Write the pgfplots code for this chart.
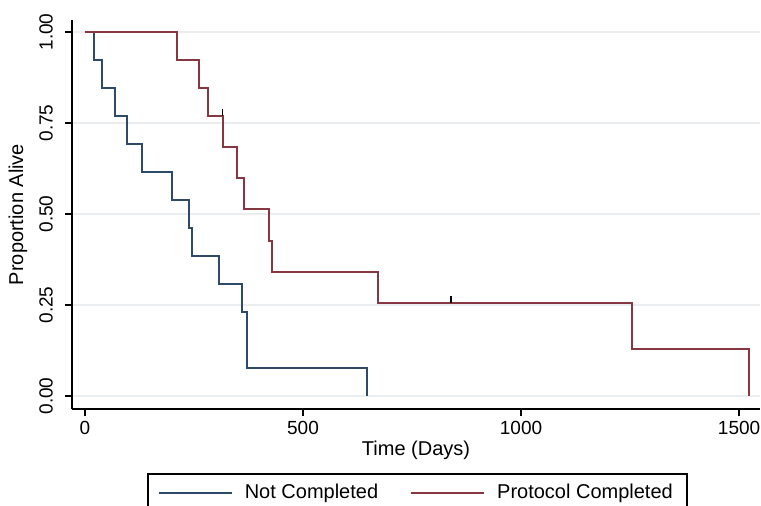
\documentclass[border=0pt]{standalone}
\usepackage{fontspec}
\setmainfont{Liberation Sans}
\usepackage{pgfplots}
\pgfplotsset{compat=1.18}

\definecolor{kmblue}{RGB}{45,75,105}
\definecolor{kmred}{RGB}{135,55,65}
\definecolor{gridc}{RGB}{234,238,240}

% censor tick: a short stroke upward from the curve
\pgfdeclareplotmark{cens}{\pgfpathmoveto{\pgfpointorigin}\pgfpathlineto{\pgfpoint{0pt}{3.5pt}}\pgfusepathqstroke}

\begin{document}
\begin{tikzpicture}
\path[use as bounding box] (-36pt,-48pt) rectangle (344.5pt,204.5pt);
\clip (-36pt,-48pt) rectangle (344.5pt,204.5pt);
\begin{axis}[
    at={(0,0)}, anchor=south west,
    scale only axis,
    width=344pt, height=194.5pt,
    xmin=-29.8, xmax=1548,
    ymin=-0.0357, ymax=1.033,
    axis x line*=bottom, axis y line*=left,
    axis line style={black, line width=1pt},
    xtick={0,500,1000,1500},
    ytick={0,0.25,0.5,0.75,1},
    tick align=outside,
    major tick length=3.5pt,
    tick style={black, line width=0.8pt},
    ymajorgrids,
    grid style={gridc, line width=0.8pt},
    /pgf/number format/assume math mode=true,
    /pgf/number format/1000 sep={},
    ticklabel style={font=\fontsize{9.5}{11}\selectfont},
    yticklabel={\pgfmathprintnumber[fixed,fixed zerofill,precision=2]{\tick}},
    yticklabel style={rotate=90, anchor=south},
    yticklabel shift=2.5pt,
    xticklabel shift=-1pt,
    xlabel={Time (Days)},
    ylabel={Proportion Alive},
    label style={font=\fontsize{10}{12}\selectfont},
    xlabel style={at={(axis description cs:0.5,-0.105)}, anchor=center},
    ylabel style={at={(axis description cs:-0.0785,0.5)}, anchor=center},
    legend columns=2,
    legend image code/.code={\draw[#1] (0pt,0pt) -- (36.5pt,0pt);},
    legend style={
        at={(axis description cs:0.109,-0.1645)}, anchor=north west,
        draw=black, line width=0.8pt,
        font=\fontsize{10}{12}\selectfont,
        inner xsep=5pt, inner ysep=3pt,
        /tikz/every odd column/.append style={column sep=4pt},
        /tikz/every even column/.append style={column sep=14pt},
    },
]
% Not Completed
\addplot[const plot, kmblue, line width=1pt] coordinates {
    (0,1) (21,0.923) (40,0.846) (68,0.769) (96,0.692) (131,0.615)
    (200,0.538) (239,0.462) (245,0.385) (308,0.308) (360,0.231)
    (372,0.077) (646,0)
};
\addlegendentry{Not Completed}
% Protocol Completed
\addplot[const plot, kmred, line width=1pt] coordinates {
    (0,1) (210,0.923) (262,0.846) (282,0.769) (317,0.684) (349,0.598)
    (365,0.513) (421,0.427) (430,0.342) (673,0.256) (1255,0.128) (1523,0)
};
\addlegendentry{Protocol Completed}
% censored observations
\addplot[only marks, mark=cens, mark options={black, line width=0.7pt}, forget plot]
    coordinates {(316,0.769) (839,0.256)};
\end{axis}
\end{tikzpicture}
\end{document}
